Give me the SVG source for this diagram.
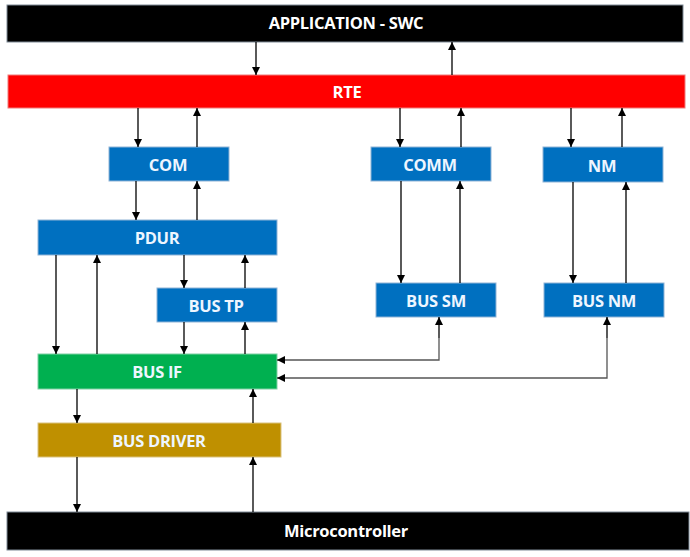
<svg xmlns="http://www.w3.org/2000/svg" width="690" height="557" viewBox="0 0 690 557">
<defs>
<marker id="ah" viewBox="0 0 10 10" refX="10" refY="5" markerWidth="8" markerHeight="8" markerUnits="userSpaceOnUse" orient="auto">
<path d="M0,0 L10,5 L0,10 z" fill="#000"/>
</marker>
<style>
.blk{fill:#000;stroke:#7f8a96;stroke-width:1}
.blue{fill:#0070C0;stroke:#8fb3d6;stroke-width:1}
.red{fill:#FF0000;stroke:#f07a7a;stroke-width:1}
.green{fill:#00B050;stroke:#7fd0a4;stroke-width:1}
.gold{fill:#BF9000;stroke:#d9c27f;stroke-width:1}
text{font-family:"Open Sans","Liberation Sans",sans-serif;font-weight:bold;font-size:16.5px;fill:#fff;text-anchor:middle;dominant-baseline:central;letter-spacing:-0.3px}
.lt{fill:#eef6ff}
.c line,.c polyline{stroke:#000;stroke-width:1.3;fill:none;marker-end:url(#ah)}
.c polyline.g{stroke:#555}
</style>
</defs>
<rect width="690" height="557" fill="#fff"/>
<g id="app"><rect class="blk" x="7" y="5" width="676" height="37"/><text x="346" y="22">APPLICATION - SWC</text></g>
<g id="rte"><rect class="red" x="8" y="75" width="677" height="33"/><text x="347" y="91">RTE</text></g>
<g id="com"><rect class="blue" x="109" y="147" width="120" height="34"/><text class="lt" x="168" y="164">COM</text></g>
<g id="comm"><rect class="blue" x="371" y="147" width="120" height="34"/><text class="lt" x="430" y="164">COMM</text></g>
<g id="nm"><rect class="blue" x="543" y="147" width="120" height="35"/><text class="lt" x="602" y="165">NM</text></g>
<g id="pdur"><rect class="blue" x="38" y="220" width="239" height="35"/><text class="lt" x="157" y="237">PDUR</text></g>
<g id="bustp"><rect class="blue" x="157" y="288" width="120" height="34"/><text class="lt" x="216" y="305">BUS TP</text></g>
<g id="bussm"><rect class="blue" x="376" y="283" width="120" height="34"/><text class="lt" x="436" y="300">BUS SM</text></g>
<g id="busnm"><rect class="blue" x="544" y="283" width="120" height="34"/><text class="lt" x="604" y="300">BUS NM</text></g>
<g id="busif"><rect class="green" x="38" y="354" width="239" height="35"/><text class="lt" x="157" y="371">BUS IF</text></g>
<g id="busdriver"><rect class="gold" x="38" y="423" width="243" height="34"/><text class="lt" x="159" y="440">BUS DRIVER</text></g>
<g id="mc"><rect class="blk" x="7" y="512" width="682" height="38"/><text x="346" y="530">Microcontroller</text></g>
<g id="connectors" class="c">
<line x1="256" y1="42" x2="256" y2="75"/>
<line x1="452" y1="75" x2="452" y2="42"/>
<line x1="138" y1="108" x2="138" y2="147"/>
<line x1="197" y1="147" x2="197" y2="108"/>
<line x1="400" y1="108" x2="400" y2="147"/>
<line x1="461" y1="147" x2="461" y2="108"/>
<line x1="571" y1="108" x2="571" y2="147"/>
<line x1="622" y1="147" x2="622" y2="108"/>
<line x1="136" y1="181" x2="136" y2="220"/>
<line x1="197" y1="220" x2="197" y2="181"/>
<line x1="401" y1="181" x2="401" y2="283"/>
<line x1="460" y1="283" x2="460" y2="181"/>
<line x1="573" y1="182" x2="573" y2="283"/>
<line x1="626" y1="283" x2="626" y2="182"/>
<line x1="184" y1="255" x2="184" y2="288"/>
<line x1="245" y1="288" x2="245" y2="255"/>
<line x1="56" y1="255" x2="56" y2="354"/>
<line x1="97" y1="354" x2="97" y2="255"/>
<line x1="184" y1="322" x2="184" y2="354"/>
<line x1="245" y1="354" x2="245" y2="322"/>
<line x1="439" y1="338" x2="439" y2="317"/>
<polyline class="g" points="439,338 439,360 277,360"/>
<line x1="607" y1="338" x2="607" y2="317"/>
<polyline class="g" points="607,338 607,378 277,378"/>
<line x1="77" y1="389" x2="77" y2="423"/>
<line x1="253" y1="423" x2="253" y2="389"/>
<line x1="77" y1="457" x2="77" y2="512"/>
<line x1="253" y1="512" x2="253" y2="457"/>
</g>
</svg>
